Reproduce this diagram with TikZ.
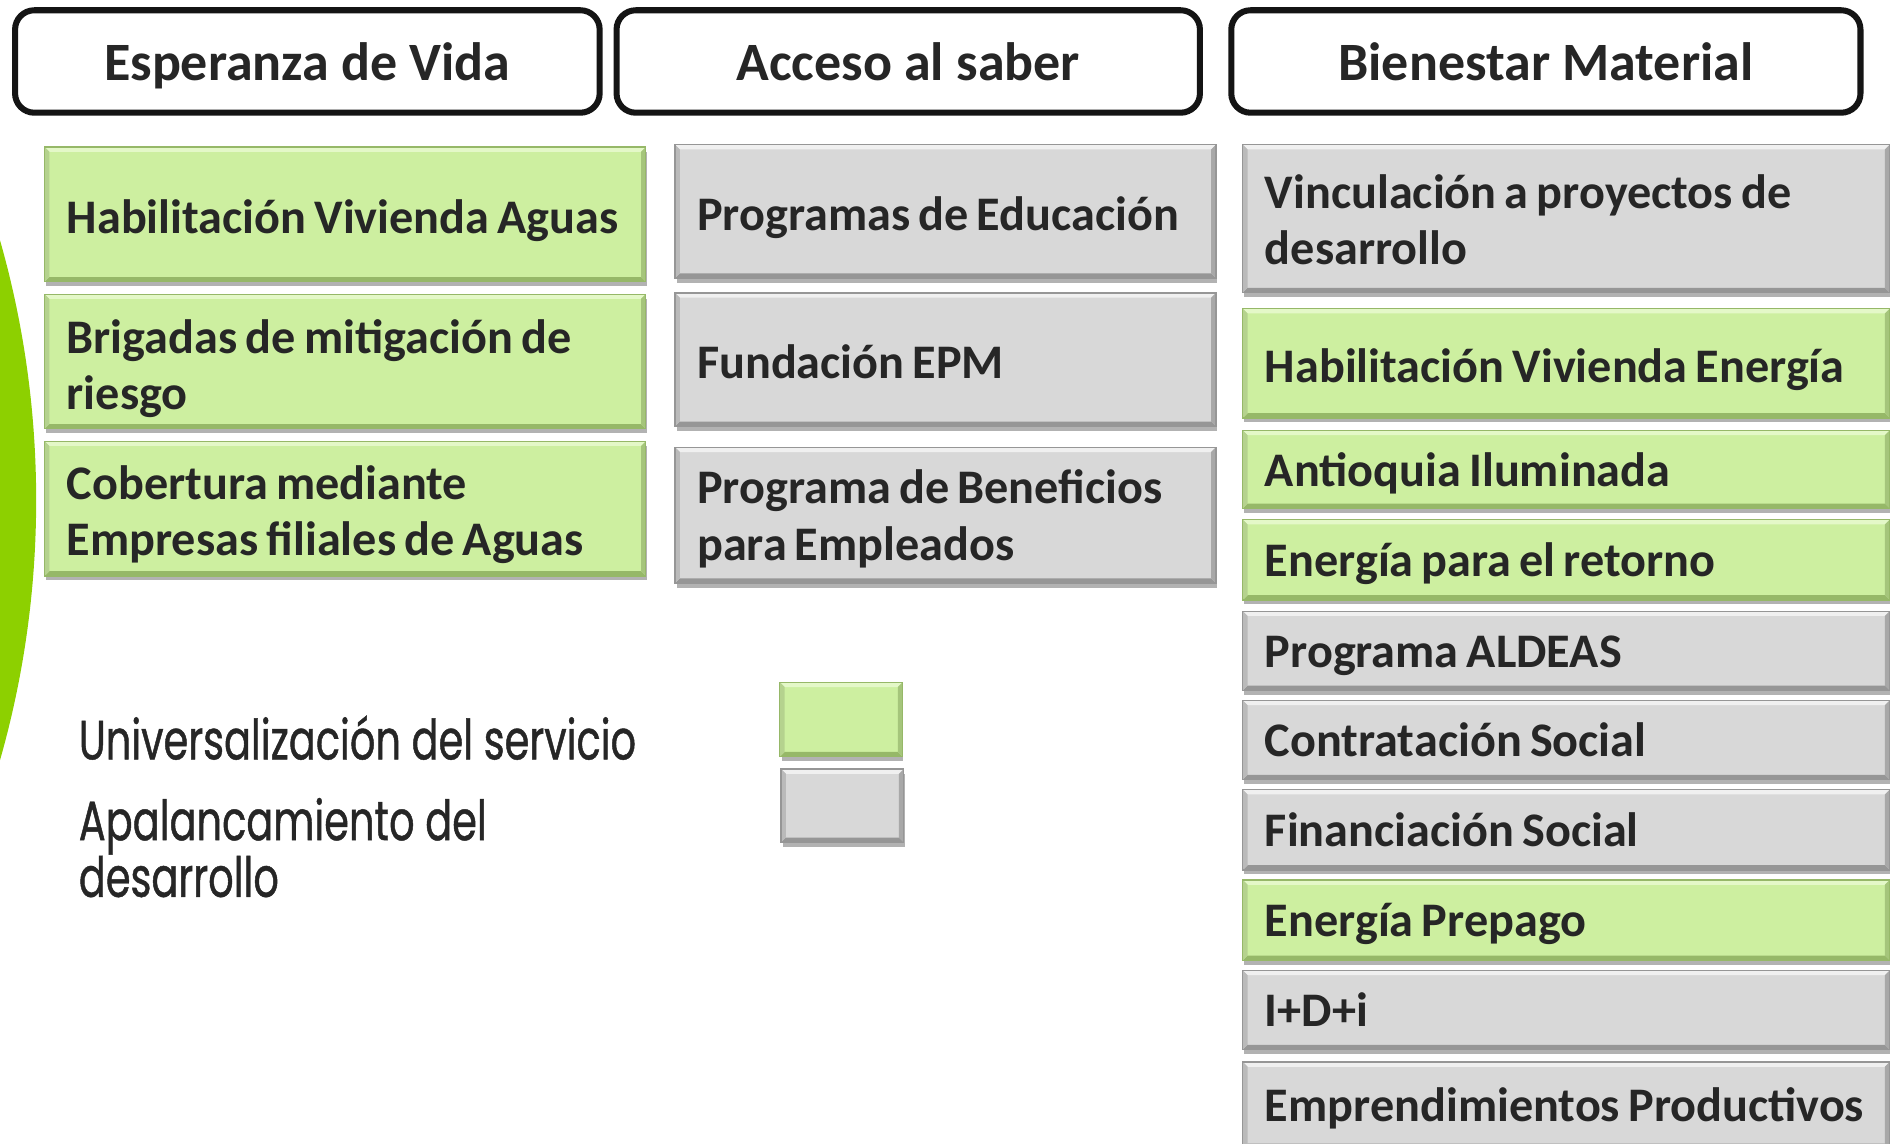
\documentclass[tikz,border=0pt]{standalone}
\usepackage{fontspec}
\setmainfont{Carlito}
\newfontfamily\legendfont{Poppins}[FakeStretch=0.72,FakeBold=0.8]
\usetikzlibrary{shadows}
\definecolor{txt}{RGB}{38,38,38}
\definecolor{gfill}{RGB}{205,239,160}
\definecolor{glight}{RGB}{228,248,200}
\definecolor{gdark}{RGB}{150,184,104}
\definecolor{yfill}{RGB}{216,216,216}
\definecolor{ylight}{RGB}{240,240,240}
\definecolor{ydark}{RGB}{150,150,150}
\definecolor{arcgreen}{RGB}{141,208,0}
\tikzset{
  hdr/.style={draw=black!92, line width=2.5pt, rounded corners=8pt, fill=white,
    inner sep=0pt, text=txt, text height=18pt, text depth=2pt,
    font=\bfseries\fontsize{22.4}{27}\selectfont},
  box/.style={rectangle, anchor=north west, inner sep=0pt,
    drop shadow={opacity=0.3, shadow xshift=0.5pt, shadow yshift=-2pt, fill=black}},
  boxtext/.style={anchor=west, inner sep=0pt, align=left, text=txt,
    font=\bfseries\fontsize{20}{23.5}\selectfont},
  green/.style={fill=gfill},
  grey/.style={fill=yfill},
  legendtxt/.style={anchor=base west, align=left, inner sep=0pt, text=txt,
    font=\legendfont\fontsize{23}{23.5}\selectfont},
}
% name, x1, y1, x2, y2, colour key (g / y), vertical text offset, text
\newcommand{\bx}[8]{%
  \pgfmathsetmacro\bxw{(#4-#2)*0.5}%
  \pgfmathsetmacro\bxh{(#5-#3)*0.5}%
  \pgfmathsetmacro\bxt{(#4-#2-24)*0.5}%
  \ifx g#6\def\bxs{green}\def\bxl{glight}\def\bxd{gdark}%
  \else\def\bxs{grey}\def\bxl{ylight}\def\bxd{ydark}\fi
  \node[box, \bxs, minimum width=\bxw pt, minimum height=\bxh pt] (#1) at (#2,#3) {};
  \fill[\bxl] (#1.north west) -- (#1.north east) -- ([shift={(-4,4)}]#1.north east) -- ([shift={(4,4)}]#1.north west) -- cycle;
  \fill[\bxd] (#1.south west) -- (#1.south east) -- ([shift={(-4,-4)}]#1.south east) -- ([shift={(4,-4)}]#1.south west) -- cycle;
  \fill[\bxd!60!\bxl] (#1.north west) -- ([shift={(4,4)}]#1.north west) -- ([shift={(4,-4)}]#1.south west) -- (#1.south west) -- cycle;
  \fill[\bxd!80!\bxl] (#1.north east) -- ([shift={(-4,4)}]#1.north east) -- ([shift={(-4,-4)}]#1.south east) -- (#1.south east) -- cycle;
  \draw[\bxd, line width=0.5pt] (#1.north west) rectangle (#1.south east);
  \node[boxtext, text width=\bxt pt] (#1t) at ([shift={(18,#7)}]#1.west) {\spaceskip=0.17em\relax #8};
}
\begin{document}
\begin{tikzpicture}[x=0.5pt, y=-0.5pt]
\useasboundingbox (0,0) rectangle (1568,949);
\begin{scope}
\clip (0,0) rectangle (1568,949);
% green arc at the left edge
\fill[arcgreen] (-755,415) circle[radius=392.5pt];

% headers
\node[hdr, minimum width=242.5pt, minimum height=42.5pt] (h1) at (255,51) {Esperanza de Vida};
\node[hdr, minimum width=242pt, minimum height=42.5pt] (h2) at (753.5,51) {Acceso al saber};
\node[hdr, minimum width=261pt, minimum height=42.5pt] (h3) at (1282.5,51) {Bienestar Material};

% column 1
\bx{a1}{37}{122}{535}{233}{g}{5}{Habilitación Vivienda Aguas}
\bx{a2}{37}{244}{535}{355}{g}{6}{Brigadas de mitigación de\\riesgo}
\bx{a3}{37}{366}{535}{477}{g}{5}{Cobertura mediante\\Empresas filiales de Aguas}

% column 2
\bx{b1}{560}{120}{1008}{230}{y}{5}{Programas de Educación}
\bx{b2}{560}{243}{1008}{353}{y}{2}{Fundación EPM}
\bx{b3}{560}{371}{1008}{483}{y}{3}{Programa de Beneficios\\para Empleados}

% column 3
\bx{c1}{1031}{120}{1567}{242}{y}{1}{Vinculación a proyectos de\\desarrollo}
\bx{c2}{1031}{256}{1567}{346}{g}{5}{Habilitación Vivienda Energía}
\bx{c3}{1031}{357}{1567}{421}{g}{3}{Antioquia Iluminada}
\bx{c4}{1031}{431}{1567}{497}{g}{3}{Energía para el retorno}
\bx{c5}{1031}{507}{1567}{572}{y}{4}{Programa ALDEAS}
\bx{c6}{1031}{581}{1567}{646}{y}{0}{Contratación Social}
\bx{c7}{1031}{655}{1567}{721}{y}{0}{Financiación Social}
\bx{c8}{1031}{730}{1567}{796}{g}{3}{Energía Prepago}
\bx{c9}{1031}{805}{1567}{870}{y}{0}{I+D+i}
\bx{c10}{1031}{881}{1567}{952}{y}{3}{Emprendimientos Productivos}

% legend
\bx{k1}{647}{566}{748}{627}{g}{0}{}
\bx{k2}{648}{638}{749}{698}{y}{0}{}
\node[legendtxt] (l1) at (65,630) {Universalización del servicio};
\node[legendtxt] (l2) at (65,744) {Apalancamiento del\\desarrollo};
\end{scope}
\end{tikzpicture}
\end{document}
